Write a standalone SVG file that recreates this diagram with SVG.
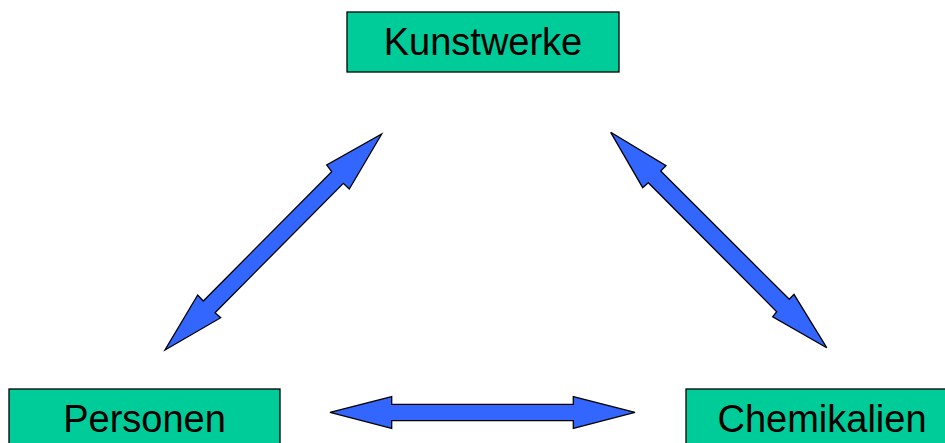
<svg xmlns="http://www.w3.org/2000/svg" width="945" height="443" viewBox="0 0 945 443">
<style>
.box{fill:#00CC99;stroke:#000;stroke-width:1.3}
.lbl{font-family:"Liberation Sans",Arial,sans-serif;font-size:38px;fill:#000;text-anchor:middle}
.arr{fill:#3366FF;stroke:#000;stroke-width:1.3;stroke-linejoin:miter}
</style>
<rect width="945" height="443" fill="#fff"/>
<g id="kunstwerke">
<rect class="box" x="347" y="12" width="272" height="60"/>
<text class="lbl" x="483" y="55">Kunstwerke</text>
</g>
<g id="personen">
<rect class="box" x="9" y="389" width="271" height="70"/>
<text class="lbl" x="144.5" y="432">Personen</text>
</g>
<g id="chemikalien">
<rect class="box" x="686" y="389" width="272" height="70"/>
<text class="lbl" x="822" y="432">Chemikalien</text>
</g>
<g id="connectors">
<polygon class="arr" points="381.7,134 349.3,189 343.3,183.3 215,312.7 220.7,317.7 165,350 197.7,295 203.3,301 331.7,171.7 326.7,165"/>
<polygon class="arr" points="610.7,132.3 666,165.7 660.7,171 789.3,299.3 794,294.3 826.7,347.7 772.7,316.7 776.7,311.7 648.3,182.7 642.7,187.7"/>
<polygon class="arr" points="330,412.3 391.7,396.7 391.7,404.3 573.3,404.3 573.3,396.7 635,412.3 573.3,428.3 573.3,420.7 391.7,420.7 391.7,428.3"/>
</g>
</svg>
